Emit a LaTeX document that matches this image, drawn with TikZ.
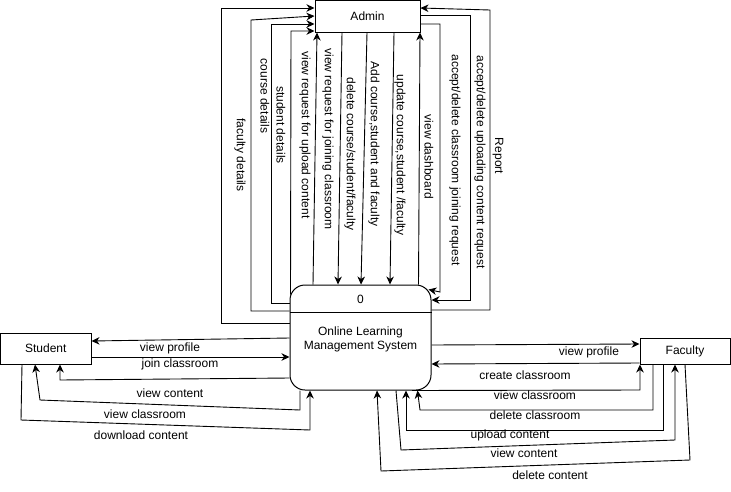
\documentclass[tikz,border=0pt]{standalone}
\usepackage{fontspec}
\setmainfont{Liberation Sans}
\usetikzlibrary{arrows.meta}
\begin{document}
\begin{tikzpicture}[x=1pt,y=-1pt,
  every node/.style={font=\fontsize{12}{14}\selectfont},
  entity/.style={draw, line width=1pt, inner sep=0pt},
  flow/.style={draw, line width=0.9pt, -{Stealth[length=8pt,width=7.5pt,inset=2.5pt]}},
  lbl/.style={inner sep=0pt, text=black},
  vlbl/.style={lbl, rotate=-90}]
\useasboundingbox (0,0) rectangle (731,491);

% external entities and the process
\node[entity, minimum width=105pt, minimum height=32pt] (admin) at (367.5,16) {Admin};
\node[entity, minimum width=90.5pt, minimum height=31pt] (student) at (45.75,348.5) {Student};
\node[entity, minimum width=90pt, minimum height=26pt] (faculty) at (685,351) {Faculty};
\node[entity, rounded corners=15pt, minimum width=141pt, minimum height=105pt] (proc) at (360.5,337.5) {};
\draw[line width=1pt] (proc.west |- 0,312) -- (proc.east |- 0,312);
\node (pid) at (360.5,299) {0};
\node[align=center] (pname) at (360.5,339) {Online Learning\\Management System};

% process -> admin (left side)
\draw[flow] (proc.west |- 0,323) -- (221,323) -- (221,8) -- (admin.west |- 0,8);
\draw[flow] (proc.west |- 0,311) -- (251,311) -- (251,20) -- (admin.west |- 0,16);
\draw[flow] (proc.west |- 0,303) -- (271,303) -- (271,24) -- (admin.west |- 0,24);
\draw[flow] ([shift={(1,10)}]proc.north west) -- (291,31) -- (admin.west |- 0,31);

% vertical flows between admin and process
\draw[flow] (proc.north -| 313,0) -- (admin.south -| 317,0);
\draw[flow] (admin.south -| 342,0) -- (proc.north -| 338,0);
\draw[flow] (admin.south -| 367,0) -- (proc.north -| 361,0);
\draw[flow] (admin.south -| 394,0) -- (proc.north -| 390,0);
\draw[flow] ([shift={(-13,0)}]proc.north east) -- (admin.south -| 420,0);

% admin <-> process (right side)
\draw[flow] (admin.east |- 0,24) -- (440,24) -- (440,292) -- ([shift={(-3,5)}]proc.north east);
\draw[flow] (admin.east |- 0,15) -- (470,15) -- (470,300) -- (proc.east |- 0,300);
\draw[flow] (proc.east |- 0,310) -- (490,310) -- (490,10) -- (admin.east |- 0,8);

% student flows
\draw[flow] (proc.west |- 0,338) -- (student.east |- 0,341);
\draw[flow] (student.east |- 0,357) -- (proc.west |- 0,357);
\draw[flow] (proc.west |- 0,378) -- (60,380) -- (student.south -| 60,0);
\draw[flow] (proc.south -| 300,0) -- (300,410) -- (40,400) -- (student.south -| 35,0);
\draw[flow] (student.south -| 22,0) -- (21,420) -- (310,430) -- (proc.south -| 310,0);

% faculty flows
\draw[flow] (proc.east |- 0,345) -- (faculty.west |- 0,344);
\draw[flow] (faculty.west |- 0,363) -- (proc.east |- 0,364);
\draw[flow] (proc.south -| 412,0) -- (640,390) -- (faculty.south -| 640,0);
\draw[flow] (faculty.south -| 653,0) -- (653,410) -- (420,410) -- ([shift={(-14,0)}]proc.south east);
\draw[flow] (faculty.south -| 663,0) -- (663,430) -- (406,430) -- (proc.south -| 406,0);
\draw[flow] (proc.south -| 396,0) -- (401,450) -- (675,440) -- (faculty.south -| 675,0);
\draw[flow] (faculty.south -| 685,0) -- (690,460) -- (381,471) -- (proc.south -| 377,0);

% flow labels
\node[vlbl] at (240,155) {faculty details};
\node[vlbl] at (265,96) {course details};
\node[vlbl] at (281,125) {student details};
\node[vlbl] at (305,135) {view request for upload content};
\node[vlbl] at (328,139) {view request for joining classroom};
\node[vlbl] at (350,154) {delete course/student/faculty};
\node[vlbl] at (374,144) {Add course,student and faculty};
\node[vlbl] at (400,155) {update course,student /faculty};
\node[vlbl] at (429,157) {view dashboard};
\node[vlbl] at (455,160) {accept/delete classroom joining request};
\node[vlbl] at (480,162) {accept/delete uploading content request};
\node[vlbl] at (498,156) {Report};

\node[lbl] at (170,348) {view profile};
\node[lbl] at (180,364) {join classroom};
\node[lbl] at (170,393) {view content};
\node[lbl] at (145,414) {view classroom};
\node[lbl] at (141,435) {download content};
\node[lbl] at (589,352) {view profile};
\node[lbl] at (525,375) {create classroom};
\node[lbl] at (535,395) {view classroom};
\node[lbl] at (535,415) {delete classroom};
\node[lbl] at (510,435) {upload content};
\node[lbl] at (524,453) {view content};
\node[lbl] at (550,475) {delete content};
\end{tikzpicture}
\end{document}
